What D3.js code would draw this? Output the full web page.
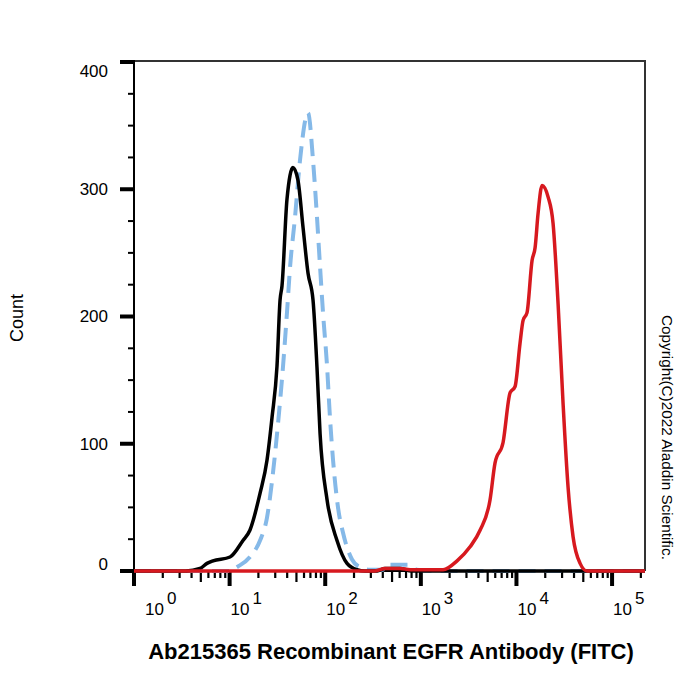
<!DOCTYPE html>
<html lang="en">

<head>
    <meta charset="UTF-8">
    <title>EGFR flow histogram</title>
    <style>
        body { margin: 0; background: #fff; }
        text { font-family: Arial, "Liberation Sans", sans-serif; fill: #000; }
    </style>
</head>

<body>
    <div id="wrapper"></div>
    <script src="https://d3js.org/d3.v7.min.js"></script>
    <script>
        // blue dashed curve (blank)
        const blankIntensity = [1, 10.5, 11.4, 16.3, 20.8, 24.6, 28.4, 32.1, 36.2, 39.8, 42.9, 48.3, 54.5, 66.1, 74.5, 82, 88.3, 94.8, 104.5, 112, 120.8, 136, 153.5, 190.6, 231, 294, 400, 450, 770, 900, 1600, 221000];
        const blankCount = [0, 0, 2, 11, 24, 42, 77, 116, 161, 203, 239, 278, 323, 360, 323, 278, 239, 203, 161, 121, 87, 50, 30, 9, 3, 1, 1, 5, 5, 1, 0, 0];

        // black curve (isotype)
        const isotypeIntensity = [1, 3.5, 4.9, 5.8, 6.7, 10.1, 13.8, 16.3, 20.8, 24.6, 27.8, 31.3, 33.7, 35.3, 39.8, 46, 51.9, 58.6, 66.1, 74.5, 82, 88.3, 104.5, 132.8, 169, 215, 260, 350, 420, 600, 800, 221000];
        const isotypeCount = [0, 0, 2, 6, 8, 11, 24, 32, 61, 87, 121, 161, 213, 224, 292, 317, 307, 270, 234, 213, 160, 108, 56, 24, 6, 1, 0, 0, 2, 2, 0, 0];

        // red curve (antibody)
        const antibodyIntensity = [1, 332, 422, 606, 771, 1707, 2393, 3272, 4160, 5296, 5970, 7244, 8570, 9670, 10900, 11730, 12900, 14560, 15660, 16830, 18530, 21410, 24160, 27250, 30710, 34650, 39090, 46270, 54760, 221000];
        const antibodyCount = [0, 0, 2, 2, 1, 1, 8, 19, 32, 56, 85, 101, 140, 145, 179, 197, 203, 244, 254, 281, 303, 294, 273, 210, 132, 66, 27, 6, 0, 0];

        const yTicks = [0, 100, 200, 300, 400];
        const decades = [0, 1, 2, 3, 4, 5];

        const width = 700, height = 700;
        const svg = d3.select('#wrapper').append('svg')
            .attr('width', width)
            .attr('height', height);

        const x = d3.scaleLog().domain([1, 221000]).range([134, 645]);
        const y = d3.scaleLinear().domain([0, 400]).range([571, 62]);

        // clip for the curves
        svg.append('clipPath').attr('id', 'plot')
            .append('rect')
            .attr('x', x.range()[0]).attr('y', y.range()[1] - 5)
            .attr('width', x.range()[1] - x.range()[0])
            .attr('height', y.range()[0] - y.range()[1] + 8);

        // frame top / right
        svg.append('path')
            .attr('d', `M${x.range()[0]},${y(400) - 1}H${x.range()[1]}V${y(0)}`)
            .attr('fill', 'none')
            .attr('stroke', '#333')
            .attr('stroke-width', 2);

        // y axis
        const yAxis = svg.append('g').attr('class', 'yAxis');
        yAxis.append('line')
            .attr('x1', 134).attr('x2', 134)
            .attr('y1', y(400) - 2).attr('y2', y(0))
            .attr('stroke', '#000').attr('stroke-width', 2);

        const yMinor = d3.range(0, 401, 25).filter(d => d % 100 !== 0);
        yAxis.selectAll('.minor').data(yMinor).join('line')
            .attr('class', 'minor')
            .attr('x1', 128).attr('x2', 134)
            .attr('y1', d => y(d)).attr('y2', d => y(d))
            .attr('stroke', '#000').attr('stroke-width', 2);

        yAxis.selectAll('.major').data(yTicks).join('line')
            .attr('class', 'major')
            .attr('x1', 120).attr('x2', 134)
            .attr('y1', d => y(d)).attr('y2', d => y(d))
            .attr('stroke', '#000').attr('stroke-width', 4);

        yAxis.selectAll('text').data(yTicks).join('text')
            .attr('x', 108)
            .attr('y', d => Math.max(71, Math.min(564, y(d))))
            .attr('dy', '0.35em')
            .attr('text-anchor', 'end')
            .attr('font-size', 17)
            .text(d => d);

        // x axis
        const xAxis = svg.append('g').attr('class', 'xAxis');
        xAxis.append('line')
            .attr('x1', 134).attr('x2', 645)
            .attr('y1', y(0)).attr('y2', y(0))
            .attr('stroke', '#000').attr('stroke-width', 2);

        const xTickVals = [];
        decades.forEach(p => {
            for (let m = 1; m <= 9; m++) {
                const v = m * Math.pow(10, p);
                if (v <= x.domain()[1]) xTickVals.push({ v, m });
            }
        });

        xAxis.selectAll('.tick').data(xTickVals).join('line')
            .attr('class', 'tick')
            .attr('x1', d => x(d.v)).attr('x2', d => x(d.v))
            .attr('y1', y(0))
            .attr('y2', d => y(0) + (d.m === 1 ? 15 : d.m === 5 ? 11 : 7))
            .attr('stroke', '#000')
            .attr('stroke-width', d => d.m === 1 ? 4 : 2.2);

        const xLabels = xAxis.selectAll('.lab').data(decades).join('text')
            .attr('class', 'lab')
            .attr('x', d => Math.max(145, x(Math.pow(10, d)) + 1))
            .attr('y', 615)
            .attr('font-size', 17);
        xLabels.append('tspan').text('10');
        xLabels.append('tspan').attr('dx', 3).attr('dy', -11).text(d => d);

        // curves
        const line = d3.line()
            .x(d => x(d[0]))
            .y(d => y(d[1]))
            .curve(d3.curveMonotoneX);

        const curves = svg.append('g').attr('clip-path', 'url(#plot)');

        curves.append('path')
            .datum(d3.zip(blankIntensity, blankCount))
            .attr('d', line)
            .attr('fill', 'none')
            .attr('stroke', '#85b9e8')
            .attr('stroke-width', 4)
            .attr('stroke-dasharray', '17,9');

        curves.append('path')
            .datum(d3.zip(isotypeIntensity, isotypeCount))
            .attr('d', line)
            .attr('fill', 'none')
            .attr('stroke', '#000')
            .attr('stroke-width', 3.5)
            .attr('stroke-linejoin', 'round');

        curves.append('path')
            .datum(d3.zip(antibodyIntensity, antibodyCount))
            .attr('d', line)
            .attr('fill', 'none')
            .attr('stroke', '#d7191f')
            .attr('stroke-width', 3.5)
            .attr('stroke-linejoin', 'round');

        // axis titles
        svg.append('text')
            .attr('transform', 'translate(23,318) rotate(-90)')
            .attr('text-anchor', 'middle')
            .attr('font-size', 18)
            .text('Count');

        svg.append('text')
            .attr('x', 391).attr('y', 659)
            .attr('text-anchor', 'middle')
            .attr('font-size', 22)
            .attr('font-weight', 'bold')
            .text('Ab215365 Recombinant EGFR Antibody (FITC)');

        svg.append('text')
            .attr('transform', 'translate(662,315) rotate(90)')
            .attr('font-size', 15.3)
            .text('Copyright(C)2022 Aladdin Scientific.');
    </script>
</body>

</html>
